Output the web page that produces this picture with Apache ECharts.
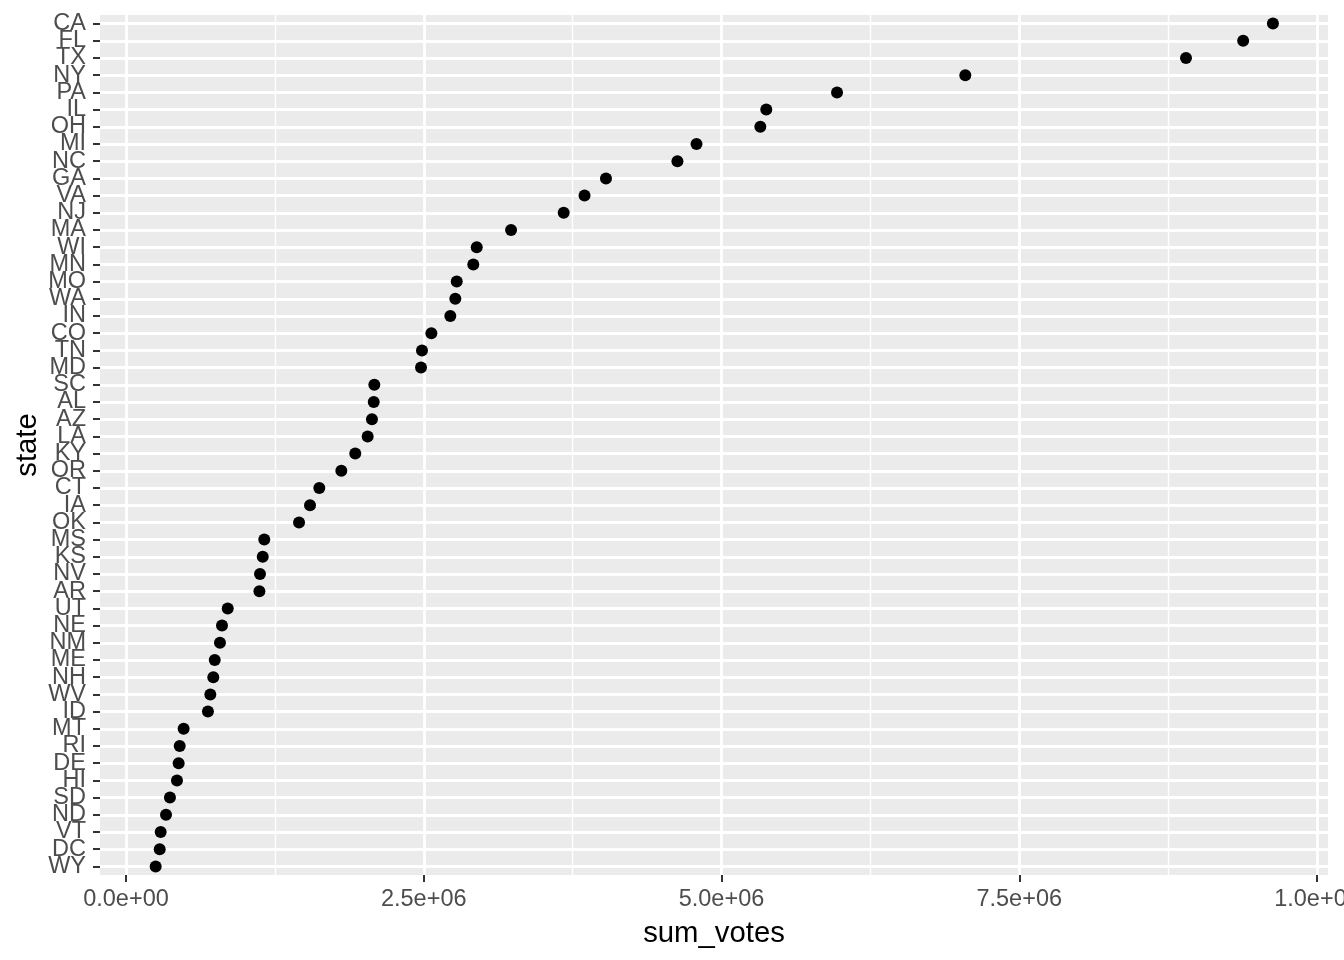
<!DOCTYPE html>
<html>
<head>
<meta charset="utf-8">
<script src="https://cdn.jsdelivr.net/npm/echarts@6/dist/echarts.min.js"></script>
<style>
html,body{margin:0;padding:0;background:#fff;}
#chart{width:1344px;height:960px;}
</style>
</head>
<body>
<div id="chart"></div>
<script>
// states listed from top (largest) to bottom (smallest)
const states = ["CA","FL","TX","NY","PA","IL","OH","MI","NC","GA","VA","NJ","MA","WI","MN","MO","WA","IN","CO","TN","MD","SC","AL","AZ","LA","KY","OR","CT","IA","OK","MS","KS","NV","AR","UT","NE","NM","ME","NH","WV","ID","MT","RI","DE","HI","SD","ND","VT","DC","WY"];
const sumVotes = [9630000,9380000,8900000,7047000,5970000,5376000,5326000,4790000,4630000,4030000,3850000,3675000,3233000,2945000,2916000,2777000,2765000,2723000,2564000,2485000,2477000,2085000,2080000,2065000,2029000,1925000,1808000,1623000,1545000,1453000,1161000,1148000,1125000,1120000,854000,806000,789000,745000,733000,708000,688000,484000,451000,442000,428000,369000,336000,291000,283000,249000];
const xTicks = [0, 2500000, 5000000, 7500000, 10000000];
const xTickLabels = ["0.0e+00","2.5e+06","5.0e+06","7.5e+06","1.0e+07"];

const font = "'Liberation Sans', Arial, Helvetica, sans-serif";
const chart = echarts.init(document.getElementById('chart'));

// panel scale: 0 at px 126, 1e7 at px 1317; panel spans px 100..1328
const pxPerUnit = (1317 - 126) / 1e7;
const xMin = -(126 - 100) / pxPerUnit;
const xMax = (1328 - 126) / pxPerUnit;
const panelTop = 15, panelBottom = 85;
const rowStep = (960 - panelTop - panelBottom) / states.length;

chart.setOption({
  backgroundColor: '#ffffff',
  animation: false,
  grid: [
    {left: 100, right: 16, top: panelTop, bottom: panelBottom, show: true, backgroundColor: '#EBEBEB', borderWidth: 0, outerBoundsMode: 'none', containLabel: false},
    {left: 126, right: 27, top: panelTop, bottom: panelBottom, show: false, outerBoundsMode: 'none', containLabel: false},
    {left: 100, right: 16, top: panelTop + rowStep / 2, bottom: panelBottom + rowStep / 2, show: false, outerBoundsMode: 'none', containLabel: false}
  ],
  xAxis: [
    {
      type: 'value', gridIndex: 0, min: xMin, max: xMax,
      axisLine: {show: false, onZero: false}, axisTick: {show: false}, axisLabel: {show: false},
      splitLine: {show: false},
      name: 'sum_votes', nameLocation: 'middle', nameGap: 44, nameMoveOverlap: false,
      nameTextStyle: {color: '#000', fontSize: 29.3, fontFamily: font}
    },
    {
      type: 'value', gridIndex: 1, min: xTicks[0], max: xTicks[xTicks.length-1], interval: xTicks[1] - xTicks[0],
      axisLine: {show: false, onZero: false},
      axisTick: {show: true, length: 7, lineStyle: {color: '#333333', width: 2}},
      axisLabel: {show: true, margin: 13, color: '#4D4D4D', fontSize: 23.5, fontFamily: font,
        formatter: function (v) { const i = xTicks.indexOf(v); return i >= 0 ? xTickLabels[i] : ''; }},
      splitLine: {show: true, lineStyle: {color: '#ffffff', width: 2.8}},
      minorTick: {show: false, splitNumber: 2},
      minorSplitLine: {show: true, lineStyle: {color: '#ffffff', width: 1.4}}
    },
    {
      type: 'value', gridIndex: 2, min: xMin, max: xMax, show: false
    }
  ],
  yAxis: [
    {
      type: 'category', gridIndex: 0, data: states, inverse: true, boundaryGap: true,
      axisLine: {show: false, onZero: false},
      axisTick: {show: true, alignWithLabel: true, length: 7, lineStyle: {color: '#333333', width: 2}},
      axisLabel: {interval: 0, margin: 14, color: '#4D4D4D', fontSize: 23.5, fontFamily: font, padding: [4, 0, 0, 0]},
      splitLine: {show: false},
      name: 'state', nameLocation: 'middle', nameGap: 58, nameRotate: 90, nameMoveOverlap: false,
      nameTextStyle: {color: '#000', fontSize: 29.3, fontFamily: font}
    },
    {
      type: 'value', gridIndex: 1, show: false
    },
    {
      type: 'category', gridIndex: 2, data: states, inverse: true, boundaryGap: false,
      axisLine: {show: false, onZero: false}, axisTick: {show: false}, axisLabel: {show: false},
      splitLine: {show: true, interval: 0, lineStyle: {color: '#ffffff', width: 2.8}}
    }
  ],
  series: [{
    type: 'scatter', xAxisIndex: 0, yAxisIndex: 0,
    data: sumVotes.map((v, i) => [v, states[i]]),
    symbol: 'circle', symbolSize: 12,
    itemStyle: {color: '#000000', opacity: 1},
    z: 10
  }]
});
</script>
</body>
</html>
